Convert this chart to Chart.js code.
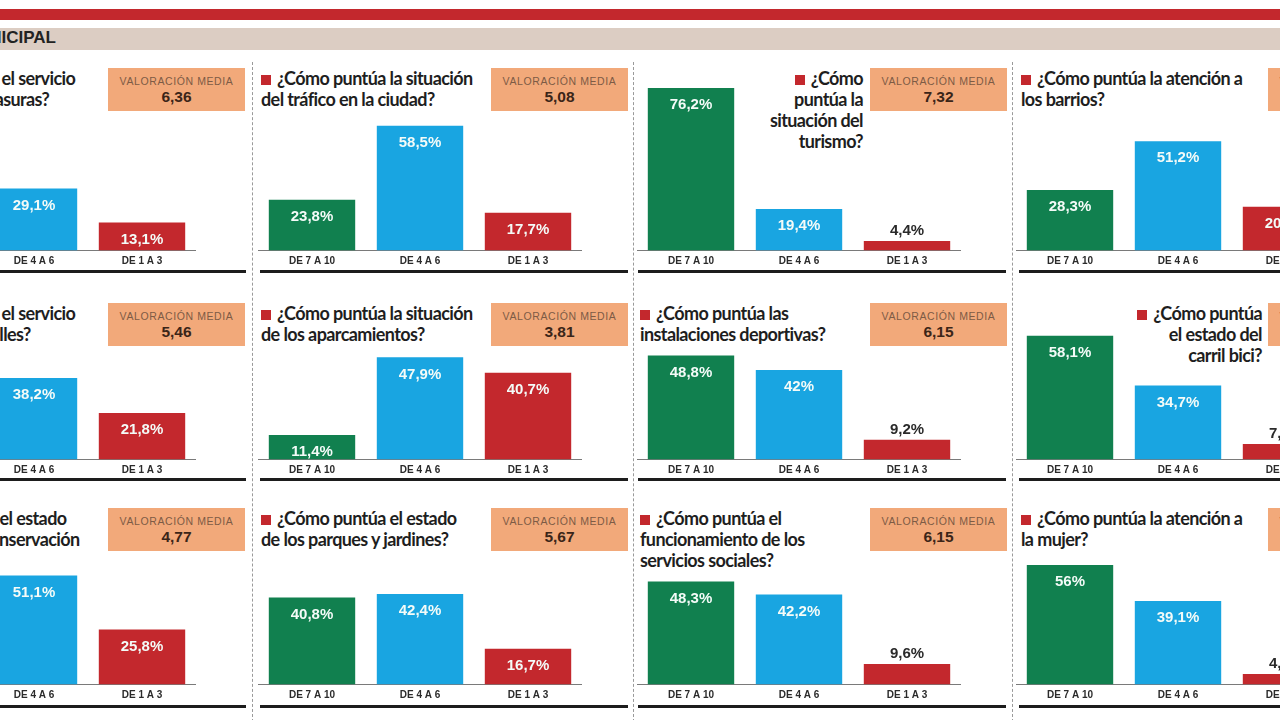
<!DOCTYPE html>
<html>
<head>
<meta charset="utf-8">
<script src="https://cdn.jsdelivr.net/npm/chart.js@4"></script>
<style>
    html, body { margin: 0; padding: 0; background: #fff; }
    #board { position: relative; width: 1280px; height: 720px; overflow: hidden; background: #fff; }
    .abs { position: absolute; }
    .topband { left: 0; top: 9px; width: 1280px; height: 11px; background: #c3282d; }
    .section { left: 0; top: 28px; width: 1280px; height: 22px; background: #dccdc3; }
    .section-title { right: 1224px; top: 28px; line-height: 23px; font: bold 17px "Liberation Sans", Arial, sans-serif; color: #222; white-space: nowrap; }
    .vdash { width: 0; border-left: 1px dashed #9a9a9a; top: 62px; height: 660px; }
    .hline { height: 3px; background: #1d1d1d; }
    .title { font: bold 18px Lato, "Liberation Sans", Arial, sans-serif; letter-spacing: -0.6px; line-height: 21px; color: #1e1e1e; white-space: pre; }
    .title .sq { display: inline-block; width: 10px; height: 10px; background: #c3282d; margin-right: 6px; vertical-align: 0px; }
    .box { background: #f2a97a; text-align: center; font-family: "Liberation Sans", Arial, sans-serif; }
    .box .lbl { font-size: 10.5px; letter-spacing: 0.6px; color: #7d5b45; margin-top: 7px; line-height: 13px; }
    .box .val { font-size: 15.5px; font-weight: bold; color: #3b2518; line-height: 18px; }
    canvas { display: block; }
</style>
</head>
<body>
<div id="board"></div>
<script>
// --- DATA ---
const categories = ['DE 7 A 10', 'DE 4 A 6', 'DE 1 A 3'];

// panels go row by row, four per row
const questions = [
    '¿Cómo puntúa el servicio\nde recogida de basuras?',
    '¿Cómo puntúa la situación\ndel tráfico en la ciudad?',
    '¿Cómo\npuntúa la\nsituación del\nturismo?',
    '¿Cómo puntúa la atención a\nlos barrios?',
    '¿Cómo puntúa el servicio\nde limpieza de calles?',
    '¿Cómo puntúa la situación\nde los aparcamientos?',
    '¿Cómo puntúa las\ninstalaciones deportivas?',
    '¿Cómo puntúa\nel estado del\ncarril bici?',
    '¿Cómo puntúa el estado\nde las vías y su conservación',
    '¿Cómo puntúa el estado\nde los parques y jardines?',
    '¿Cómo puntúa el\nfuncionamiento de los\nservicios sociales?',
    '¿Cómo puntúa la atención a\nla mujer?'
];
const highScores = [57.8, 23.8, 76.2, 28.3, 40.0, 11.4, 48.8, 58.1, 23.1, 40.8, 48.3, 56];
const midScores  = [29.1, 58.5, 19.4, 51.2, 38.2, 47.9, 42, 34.7, 51.1, 42.4, 42.2, 39.1];
const lowScores  = [13.1, 17.7, 4.4, 20.5, 21.8, 40.7, 9.2, 7.2, 25.8, 16.7, 9.6, 4.9];
const averages   = ['6,36', '5,08', '7,32', '', '5,46', '3,81', '6,15', '', '4,77', '5,67', '6,15', ''];
const averageLabel = 'VALORACIÓN MEDIA';
const sectionName = 'MUNICIPAL';

// --- LAYOUT ---
const barColors = ['#11804f', '#19a5e1', '#c3282d'];
const axisLeft = [-128, 258, 637, 1016];
const axisWidth = 324;
const baselines = [250.5, 459, 684];
const pxPerPoint = 2.13;
const yMax = 80;
const titleTops = [67.5, 302.5, 507.5];
const boxTops = [68, 303, 508];
const boxLefts = [108, 491, 870, 1268];
const ruleTops = [269.5, 477.5, 704.5];
const ruleSegments = [[0, 246], [260, 628], [638, 1006], [1019, 1280]];
const dashX = [252, 633, 1012];
// title anchors: [x, align]
const titleAnchors = [
    [-127, 'left'], [261, 'left'], [863, 'right'], [1021, 'left'],
    [-127, 'left'], [261, 'left'], [640, 'left'], [1262, 'right'],
    [-129, 'left'], [261, 'left'], [640, 'left'], [1021, 'left']
];

const board = document.getElementById('board');

function addDiv(cls, css, html) {
    const d = document.createElement('div');
    d.className = 'abs ' + cls;
    Object.assign(d.style, css);
    if (html !== undefined) d.innerHTML = html;
    board.appendChild(d);
    return d;
}

// header
addDiv('topband', {});
addDiv('section', {});
addDiv('section-title', {}, sectionName);

// separators
dashX.forEach(x => addDiv('vdash', { left: x + 'px' }));
ruleTops.forEach(y => {
    ruleSegments.forEach(seg => {
        addDiv('hline', { left: seg[0] + 'px', top: y + 'px', width: (seg[1] - seg[0]) + 'px' });
    });
});

// value labels on the bars
const barLabels = {
    id: 'barLabels',
    afterDatasetsDraw(chart) {
        const ctx = chart.ctx;
        const meta = chart.getDatasetMeta(0);
        const values = chart.data.datasets[0].data;
        ctx.save();
        ctx.font = 'bold 15px "Liberation Sans", Arial, sans-serif';
        ctx.textAlign = 'center';
        ctx.textBaseline = 'middle';
        meta.data.forEach((bar, i) => {
            const v = values[i];
            const txt = String(v).replace('.', ',') + '%';
            if (v >= 10) {
                ctx.fillStyle = '#f4fbf8';
                ctx.fillText(txt, bar.x, bar.y + 17);
            } else {
                ctx.fillStyle = '#2a2a2a';
                ctx.fillText(txt, bar.x, bar.y - 10);
            }
        });
        ctx.restore();
    }
};

const plotHeight = yMax * pxPerPoint;
const scaleHeight = 24;

for (let i = 0; i < 12; i++) {
    const row = Math.floor(i / 4);
    const col = i % 4;

    // title
    const anchor = titleAnchors[i];
    const lines = questions[i].split('\n');
    const t = addDiv('title', { top: titleTops[row] + 'px', textAlign: anchor[1] },
        '<span class="sq"></span>' + lines.join('\n'));
    if (anchor[1] === 'left') {
        t.style.left = anchor[0] + 'px';
    } else {
        t.style.right = (1280 - anchor[0]) + 'px';
    }

    // average box
    addDiv('box', { left: boxLefts[col] + 'px', top: boxTops[row] + 'px', width: '137px', height: '43px' },
        '<div class="lbl">' + averageLabel + '</div><div class="val">' + averages[i] + '</div>');

    // chart
    const wrap = addDiv('chartwrap', {
        left: axisLeft[col] + 'px',
        top: (baselines[row] - plotHeight) + 'px',
        width: axisWidth + 'px',
        height: (plotHeight + scaleHeight) + 'px'
    });
    const canvas = document.createElement('canvas');
    wrap.appendChild(canvas);

    new Chart(canvas.getContext('2d'), {
        type: 'bar',
        data: {
            labels: categories,
            datasets: [{
                data: [highScores[i], midScores[i], lowScores[i]],
                backgroundColor: barColors,
                borderWidth: 0,
                barPercentage: 0.8,
                categoryPercentage: 1.0
            }]
        },
        options: {
            responsive: true,
            maintainAspectRatio: false,
            animation: false,
            layout: { padding: 0 },
            plugins: { legend: { display: false }, tooltip: { enabled: false } },
            scales: {
                x: {
                    grid: { display: false, drawTicks: false },
                    border: { display: true, color: '#7a7a7a', width: 1 },
                    ticks: {
                        color: '#2b2b2b',
                        padding: 5,
                        font: { family: '"Liberation Sans", Arial, sans-serif', size: 10, weight: 'bold' }
                    },
                    afterFit: s => { s.height = scaleHeight; }
                },
                y: {
                    display: false,
                    min: 0,
                    max: yMax
                }
            }
        },
        plugins: [barLabels]
    });
}
</script>
</body>
</html>
